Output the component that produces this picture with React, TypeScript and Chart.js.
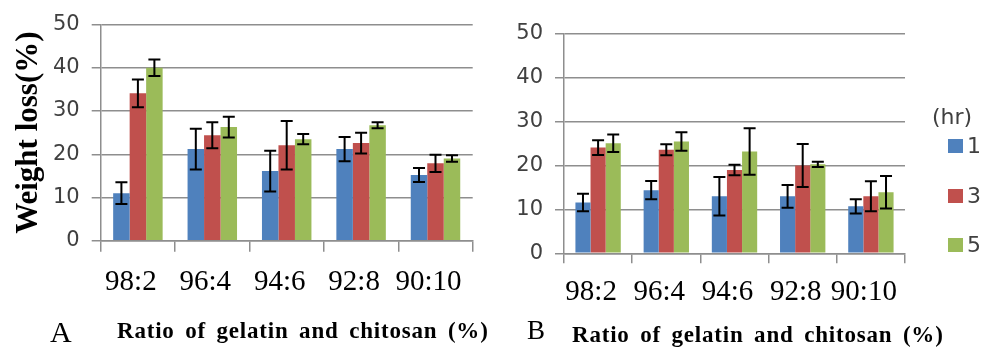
import React, { useEffect, useRef } from "react";
import { Chart, registerables } from "chart.js";

Chart.register(...registerables);

// ---------- data ----------
const categories = ["98:2", "96:4", "94:6", "92:8", "90:10"];
const seriesLabels = ["1", "3", "5"];
const seriesColors = ["#4F81BD", "#C0504D", "#9BBB59"];
const yTicks = [0, 10, 20, 30, 40, 50];

// Panel A
const a1 = [11.0, 21.2, 16.1, 21.2, 15.2];
const a1Err = [2.5, 4.7, 4.7, 2.8, 1.6];
const a3 = [34.1, 24.4, 22.1, 22.6, 17.9];
const a3Err = [3.2, 3.0, 5.6, 2.4, 2.0];
const a5 = [40.0, 26.3, 23.5, 26.7, 19.0];
const a5Err = [1.9, 2.4, 1.2, 0.7, 0.75];

// Panel B
const b1 = [11.6, 14.4, 13.0, 13.0, 10.7];
const b1Err = [2.0, 2.1, 4.4, 2.6, 1.6];
const b3 = [24.1, 23.6, 19.0, 20.0, 13.0];
const b3Err = [1.7, 1.25, 1.2, 4.9, 3.4];
const b5 = [25.1, 25.5, 23.2, 20.3, 13.9];
const b5Err = [2.0, 2.1, 5.3, 0.6, 3.7];

const yTitle = "Weight loss(%)";
const xTitle = "Ratio of gelatin and chitosan (%)";

const gridColor = "#8e8e8e";

const errorBarPlugin = {
  id: "errorBars",
  afterDatasetsDraw(chart: any) {
    const { ctx } = chart;
    const yScale = chart.scales.y;
    ctx.save();
    ctx.strokeStyle = "#000";
    ctx.lineWidth = 2;
    chart.data.datasets.forEach((ds: any, i: number) => {
      const meta = chart.getDatasetMeta(i);
      meta.data.forEach((bar: any, j: number) => {
        const v = ds.data[j];
        const e = ds.errors[j];
        const top = yScale.getPixelForValue(v + e);
        const bot = yScale.getPixelForValue(v - e);
        const x = bar.x;
        const cap = 6;
        ctx.beginPath();
        ctx.moveTo(x, top);
        ctx.lineTo(x, bot);
        ctx.moveTo(x - cap, top);
        ctx.lineTo(x + cap, top);
        ctx.moveTo(x - cap, bot);
        ctx.lineTo(x + cap, bot);
        ctx.stroke();
      });
    });
    ctx.restore();
  },
};

type PanelProps = {
  left: number;
  width: number;
  height: number;
  values: number[][];
  errors: number[][];
  yAxisWidth: number;
  xAxisHeight: number;
  padTop: number;
  padRight: number;
  xTickLen: number;
  xLabelPad: number;
  showYTitle: boolean;
};

function Panel(p: PanelProps) {
  const ref = useRef<HTMLCanvasElement | null>(null);
  useEffect(() => {
    if (!ref.current) return;
    const chart = new Chart(ref.current, {
      type: "bar",
      data: {
        labels: categories,
        datasets: p.values.map((vals, i) => ({
          label: seriesLabels[i],
          data: vals,
          errors: p.errors[i],
          backgroundColor: seriesColors[i],
          borderWidth: 0,
          barPercentage: 1,
          categoryPercentage: 0.665,
        })) as any,
      },
      options: {
        responsive: false,
        animation: false,
        devicePixelRatio: 1,
        layout: { padding: { left: 0, right: p.padRight, top: p.padTop, bottom: 0 } },
        plugins: { legend: { display: false }, tooltip: { enabled: false } },
        scales: {
          x: {
            grid: {
              drawOnChartArea: false,
              drawTicks: true,
              tickLength: p.xTickLen,
              color: gridColor,
              lineWidth: 1.5,
              offset: true,
            },
            border: { color: gridColor, width: 1.5 },
            ticks: {
              color: "#000",
              font: { family: "Liberation Serif", size: 29 },
              padding: p.xLabelPad,
              maxRotation: 0,
              minRotation: 0,
              autoSkip: false,
              labelOffset: -7,
            },
            afterFit: (s: any) => {
              s.height = p.xAxisHeight;
            },
          },
          y: {
            min: 0,
            max: 50,
            afterBuildTicks: (s: any) => {
              s.ticks = yTicks.map((v) => ({ value: v }));
            },
            afterFit: (s: any) => {
              s.width = p.yAxisWidth;
            },
            grid: { color: gridColor, lineWidth: 1.5, tickLength: 9, drawTicks: true },
            border: { color: gridColor, width: 1.5 },
            ticks: {
              color: "#404040",
              font: { family: "DejaVu Sans", size: 21 },
              padding: 12,
            },
            title: {
              display: p.showYTitle,
              text: yTitle,
              color: "#000",
              font: { family: "Liberation Serif", size: 31, weight: "bold" },
              padding: { top: 10, bottom: 0 },
            },
          },
        },
      } as any,
      plugins: [errorBarPlugin],
    });
    return () => chart.destroy();
  }, []);
  return (
    <canvas
      ref={ref}
      width={p.width}
      height={p.height}
      style={{ position: "absolute", left: p.left, top: 0, width: p.width, height: p.height }}
    />
  );
}

const serif = '"Liberation Serif", serif';

export default function App() {
  return (
    <div
      style={{
        position: "absolute",
        left: 0,
        top: 0,
        width: 983,
        height: 347,
        overflow: "hidden",
        background: "#fff",
      }}
    >
      <Panel
        left={0}
        width={490}
        height={347}
        values={[a1, a3, a5]}
        errors={[a1Err, a3Err, a5Err]}
        yAxisWidth={100.7}
        xAxisHeight={106.3}
        padTop={22}
        padRight={17.3}
        xTickLen={11}
        xLabelPad={13}
        showYTitle={true}
      />
      <Panel
        left={490}
        width={493}
        height={347}
        values={[b1, b3, b5]}
        errors={[b1Err, b3Err, b5Err]}
        yAxisWidth={74}
        xAxisHeight={93.7}
        padTop={34}
        padRight={78}
        xTickLen={10}
        xLabelPad={12}
        showYTitle={false}
      />
      <div style={{ position: "absolute", left: 50, top: 317, font: `30px ${serif}`, lineHeight: "30px", color: "#000" }}>A</div>
      <div
        style={{
          position: "absolute",
          left: 117,
          top: 318.7,
          font: `bold 23px ${serif}`,
          lineHeight: "23px",
          letterSpacing: "0.8px",
          wordSpacing: "4px",
          whiteSpace: "nowrap",
          color: "#000",
        }}
      >
        {xTitle}
      </div>
      <div style={{ position: "absolute", left: 527, top: 317.4, font: `27px ${serif}`, lineHeight: "27px", color: "#000" }}>B</div>
      <div
        style={{
          position: "absolute",
          left: 572,
          top: 322.7,
          font: `bold 23px ${serif}`,
          lineHeight: "23px",
          letterSpacing: "0.8px",
          wordSpacing: "4px",
          whiteSpace: "nowrap",
          color: "#000",
        }}
      >
        {xTitle}
      </div>
      <div
        style={{
          position: "absolute",
          left: 932,
          top: 105,
          font: '22px "DejaVu Sans"',
          lineHeight: "24px",
          color: "#404040",
          whiteSpace: "nowrap",
        }}
      >
        (hr)
      </div>
      {seriesLabels.map((lab, i) => (
        <div key={lab} style={{ position: "absolute", left: 948, top: 139 + i * 49.5, height: 15, whiteSpace: "nowrap" }}>
          <div style={{ position: "absolute", left: 0, top: 0, width: 15, height: 14, background: seriesColors[i] }} />
          <div
            style={{
              position: "absolute",
              left: 19,
              top: -5,
              font: '22px "DejaVu Sans"',
              lineHeight: "24px",
              color: "#404040",
            }}
          >
            {lab}
          </div>
        </div>
      ))}
    </div>
  );
}
